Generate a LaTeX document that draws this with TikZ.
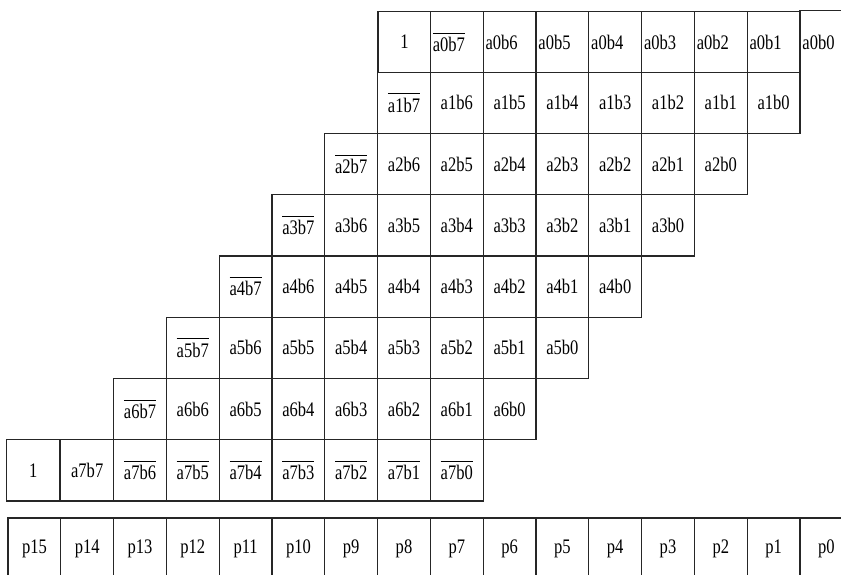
\documentclass[tikz,border=0pt]{standalone}
\usepackage{fontspec}
\setmainfont{Liberation Serif}[FakeStretch=0.8]
\usepackage{tikz}
\usetikzlibrary{positioning}

\tikzset{
  cell/.style={draw=black!85, line width=0.8pt, minimum width=39.6pt, minimum height=45.94pt, inner sep=0pt, font=\fontsize{15.5pt}{17pt}\selectfont},
  lcell/.style={cell, text width=36pt, align=left},
}
\newcommand{\nb}[1]{\leavevmode\vbox{\hrule height 0.7pt\kern 2.6pt\hbox{#1}}}

\begin{document}
\begin{tikzpicture}[x=0.75pt, y=-0.75pt]
  \useasboundingbox (0,0) rectangle (841,574);
  \clip (0,0) rectangle (841,574);

  % row of a0
  \node[cell] (one0) at (404.4,42) {1};
  \foreach \j in {7,...,1} {
    \pgfmathsetmacro\xx{8+52.8*(15-\j+0.5)}
    \node[lcell] (a0b\j) at (\xx,42) {\ifnum\j=7 \nb{a0b7}\else a0b\j\fi};
  }
  \node[lcell, draw=none] (a0b0) at (826.4,42) {a0b0};
  \draw[black!85, line width=0.8pt] (a0b0.south west) -- (a0b0.north west) -- (a0b0.north east);

  % rows of a1 .. a7
  \foreach \r in {1,...,7} {
    \pgfmathsetmacro\yy{11+61.25*(\r+0.5)}
    \foreach \j in {7,...,0} {
      \pgfmathsetmacro\xx{8+52.8*(15-\r-\j+0.5)}
      \pgfmathtruncatemacro\ov{(\r<7)==(\j==7)}
      \node[cell] (a\r b\j) at (\xx,\yy) {\ifnum\ov=1 \nb{a\r b\j}\else a\r b\j\fi};
    }
  }
  \node[cell, left=0pt of a7b7] (one7) {1};

  % product bits
  \foreach \k in {0,...,15} {
    \pgfmathsetmacro\xx{8+52.8*(15-\k+0.5)}
    \node[cell] (p\k) at (\xx,548.6) {p\k};
  }
\end{tikzpicture}
\end{document}
